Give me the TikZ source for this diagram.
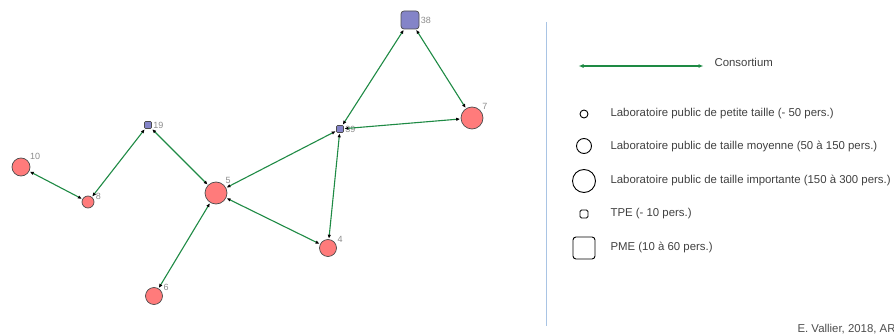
\documentclass[tikz,border=0pt]{standalone}
\usepackage{fontspec}
\setmainfont{Liberation Sans}
\usetikzlibrary{arrows.meta}

\definecolor{labred}{HTML}{FF7B7B}
\definecolor{firmblue}{HTML}{8484C8}
\definecolor{linkgreen}{HTML}{1E8A44}
\definecolor{sepblue}{HTML}{A9C4E4}

\begin{document}
\begin{tikzpicture}[x=1pt,y=-1pt,font=\fontsize{11.4}{13}\selectfont,
    {Latex[length=4pt,width=3.5pt,black]}-{Latex[length=4pt,width=3.5pt,black]},
    draw=linkgreen, line width=1.1pt, shorten >=0.5pt, shorten <=0.5pt]
    \tikzstyle{lab}=[circle,draw=black!70,line width=0.7pt,fill=labred,inner sep=0pt]
    \tikzstyle{firm}=[rectangle,draw=black!70,line width=0.7pt,fill=firmblue,inner sep=0pt]
    \tikzstyle{tag}=[text=black!45,font=\fontsize{9}{10}\selectfont,inner sep=1pt]
    \tikzstyle{legend}=[draw=black,fill=none,line width=0.9pt,inner sep=0pt]
    \tikzstyle{legtext}=[anchor=west,text=black!75,inner sep=0pt]

    \useasboundingbox (0,0) rectangle (894,334);

    % Draw the laboratories
    \foreach \name / \x / \y / \s / \a in {10/21/167/18/35, 8/88/202/12/5, 5/216/193/22/45,
                                          4/328/248/17/25, 6/154/296/17/25, 7/472/118/22/40}
        \node[lab, minimum size=\s pt, label={[tag]\a:\name}] (N-\name) at (\x,\y) {};

    % Draw the firms
    \foreach \name / \x / \y / \s / \r in {38/410/20/18/3, 39/340/129/7/1, 19/148/125/7/1}
        \node[firm, minimum size=\s pt, rounded corners=\r pt, label={[tag]right:\name}]
            (N-\name) at (\x,\y) {};

    % Connect the partners of each consortium
    \foreach \source / \dest in {38/39, 38/7, 39/7, 39/5, 39/4,
                                 19/5, 19/8, 10/8, 4/5, 6/5}
        \path (N-\source) edge (N-\dest);

    % Separate the legend
    \draw[-, draw=sepblue, line width=0.6pt, shorten >=0pt, shorten <=0pt]
        (546,22) -- (546,326);

    % Draw the legend
    \coordinate (cons-a) at (578,66);
    \coordinate (cons-b) at (704,66);
    \draw[{Latex[length=5pt,width=4pt,linkgreen]}-{Latex[length=5pt,width=4pt,linkgreen]}]
        (cons-a) -- (cons-b);
    \node[legtext] (cons) at (714,62) {Consortium};

    \node[legend, circle, minimum size=8pt] (small) at (584,114) {};
    \node[legend, circle, minimum size=15pt] (medium) at (584,146) {};
    \node[legend, circle, minimum size=23pt] (large) at (584,181) {};
    \node[legend, rectangle, rounded corners=1.5pt, minimum size=8pt] (tpe) at (584,214) {};
    \node[legend, rectangle, rounded corners=3pt, minimum size=22pt] (pme) at (584,248) {};

    \node[legtext] at (610,114) {Laboratoire public de petite taille (- 50 pers.)};
    \node[legtext] at (610,146) {Laboratoire public de taille moyenne (50 à 150 pers.)};
    \node[legtext] at (610,180) {Laboratoire public de taille importante (150 à 300 pers.)};
    \node[legtext] at (610,214) {TPE (- 10 pers.)};
    \node[legtext] at (610,247) {PME (10 à 60 pers.)};

    % Credit
    \node[legtext, text=black!70] at (797,329) {E. Vallier, 2018, AR};
\end{tikzpicture}
\end{document}
